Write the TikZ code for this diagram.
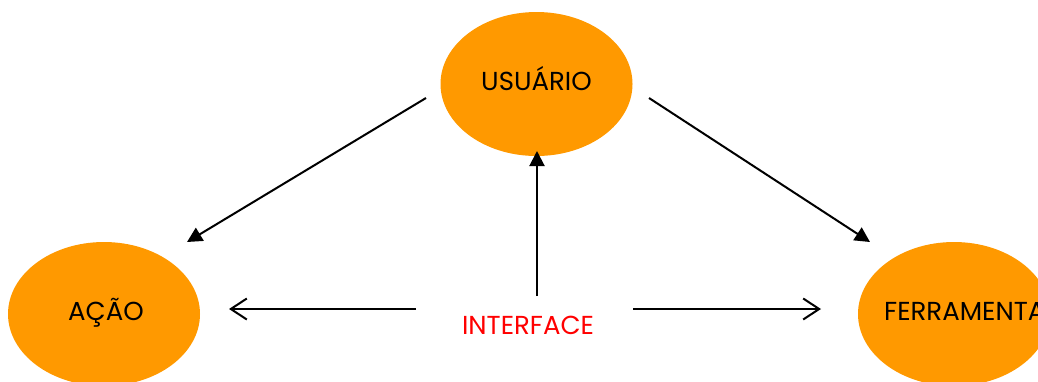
\documentclass[tikz,border=0pt]{standalone}
\usepackage{fontspec}
\setmainfont{Poppins}
\usetikzlibrary{shapes.geometric,arrows.meta}
\definecolor{blobfill}{RGB}{255,153,0}
\definecolor{ifred}{RGB}{255,0,0}
\tikzset{
  blob/.style={ellipse, fill=blobfill, minimum width=192pt, minimum height=144pt, inner sep=0pt},
  lbl/.style={font=\fontsize{26}{26}\selectfont, text=black, inner sep=0pt},
  solidtip/.style={line width=2pt, -{Triangle[length=15pt,width=15pt]}},
  opentip/.style={line width=2pt, -{Straight Barb[length=16pt,width=21pt,line width=2pt]}}
}
\begin{document}
\begin{tikzpicture}[x=1pt,y=-1pt]
  \useasboundingbox (0,0) rectangle (1038,381);

  % the three concepts
  \node[blob] (usr) at (536.5,84) {};
  \node[blob] (acao) at (104,314) {};
  \node[blob] (ferr) at (954,314) {};
  \node[lbl, anchor=base] (usrtxt) at (536.5,90) {USUÁRIO};
  \node[lbl, anchor=base] (acaotxt) at (106,320) {AÇÃO};
  \node[lbl, anchor=base west] (ferrtxt) at (884,320) {FERRAMENTA};

  % the interface in the middle
  \node[lbl, text=ifred, anchor=base] (iface) at (528,334) {INTERFACE};

  % connector end points
  \coordinate (ua) at (426,98);
  \coordinate (au) at (187,242);
  \coordinate (uf) at (649,98);
  \coordinate (fu) at (870,242);
  \coordinate (iu) at (537,296);
  \coordinate (ui) at (537,151);
  \coordinate (ial) at (416,309);
  \coordinate (iar) at (229,309);
  \coordinate (ifl) at (633,309);
  \coordinate (ifr) at (821,309);

  \draw[solidtip] (ua) -- (au);
  \draw[solidtip] (uf) -- (fu);
  \draw[solidtip] (iu) -- (ui);
  \draw[opentip] (ial) -- (iar);
  \draw[opentip] (ifl) -- (ifr);
\end{tikzpicture}
\end{document}
